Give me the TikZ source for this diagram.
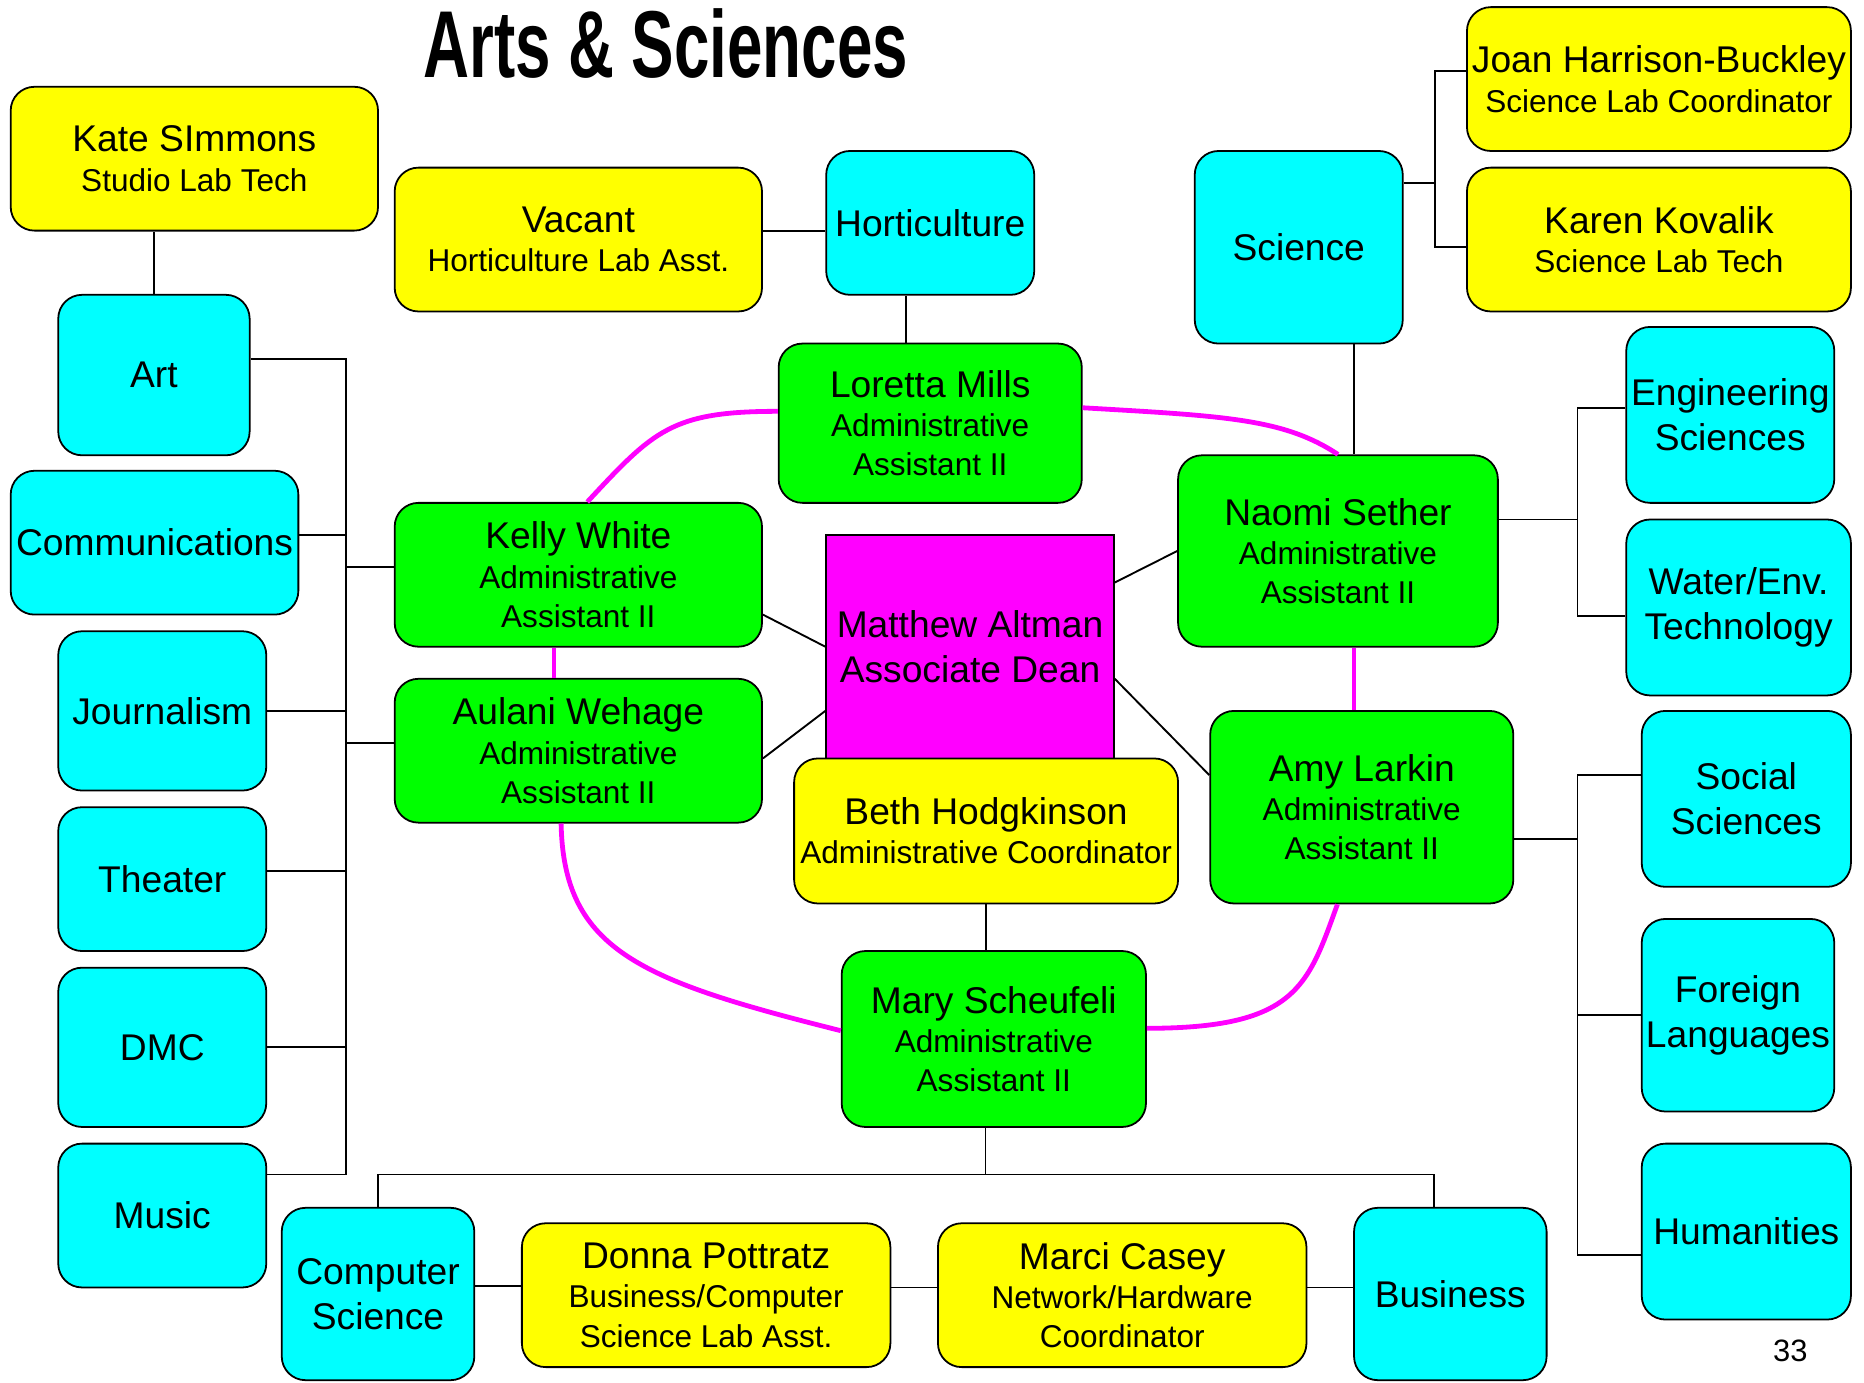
\documentclass[tikz,border=0pt]{standalone}
\usepackage{fontspec}
\setmainfont{Liberation Sans}
\newfontfamily\titlefont[FakeStretch=0.67]{Liberation Sans}
\usepackage{xcolor}
\usepackage{tikz}

\definecolor{deptcyan}{RGB}{0,255,255}
\definecolor{staffyellow}{RGB}{255,255,0}
\definecolor{asstgreen}{RGB}{0,255,0}
\definecolor{deanmagenta}{RGB}{255,0,255}
\newcommand{\nm}{\fontsize{17.8}{18.8}\selectfont}
\newcommand{\rl}{\fontsize{15.1}{18.8}\selectfont}

\begin{document}
\begin{tikzpicture}[x=0.2mm, y=-0.2mm,
  every node/.style={inner sep=0pt},
  base/.style={draw, line width=0.85pt, rounded corners=4mm, align=center},
  dept/.style={base, fill=deptcyan, font=\fontsize{17.8}{21.5}\selectfont},
  staff/.style={base, fill=staffyellow, font=\rl},
  asst/.style={base, fill=asstgreen, font=\rl},
  head/.style={base, sharp corners, fill=deanmagenta, font=\fontsize{17.8}{21.5}\selectfont},
  sz/.style 2 args={minimum width=#1*0.2mm, minimum height=#2*0.2mm},
  wire/.style={line width=0.9pt},
  link/.style={line width=2.3pt, draw=deanmagenta}]
  \useasboundingbox (0,0) rectangle (1568,1163);
  % title
  \node[font=\titlefont\bfseries\fontsize{45.5}{50}\selectfont, anchor=base] (title) at (560,65) {Arts \& Sciences};
  % left column
  \node[staff, sz={309}{121}] (kate) at (163.5,133.5) {{\nm Kate SImmons}\\Studio Lab Tech};
  \node[dept, sz={161}{135}] (art) at (129.5,315.5) {Art};
  \node[dept, sz={242}{121}] (comm) at (130,456.5) {Communications};
  \node[dept, sz={175}{134}] (journ) at (136.5,598) {Journalism};
  \node[dept, sz={175}{121}] (theater) at (136.5,739.5) {Theater};
  \node[dept, sz={175}{134}] (dmc) at (136.5,881) {DMC};
  \node[dept, sz={175}{121}] (music) at (136.5,1022.5) {Music};
  % top row
  \node[staff, sz={309}{121}] (vacant) at (486.5,201.5) {{\nm Vacant}\\Horticulture Lab Asst.};
  \node[dept, sz={175}{121}] (horti) at (782.5,187.5) {Horticulture};
  \node[dept, sz={175}{162}] (science) at (1092.5,208) {Science};
  \node[staff, sz={323}{121}] (joan) at (1395.5,66.5) {{\nm Joan Harrison-Buckley}\\Science Lab Coordinator};
  \node[staff, sz={323}{121}] (karen) at (1395.5,201.5) {{\nm Karen Kovalik}\\Science Lab Tech};
  % assistants and dean
  \node[asst, sz={255}{134}] (loretta) at (782.5,356) {{\nm Loretta Mills}\\Administrative\\Assistant II};
  \node[asst, sz={309}{121}] (kelly) at (486.5,483.5) {{\nm Kelly White}\\Administrative\\Assistant II};
  \node[asst, sz={309}{121}] (aulani) at (486.5,631.5) {{\nm Aulani Wehage}\\Administrative\\Assistant II};
  \node[head, sz={242}{188}] (matthew) at (816,544) {Matthew Altman\\Associate Dean};
  \node[staff, sz={323}{122}] (beth) at (829.5,699) {{\nm Beth Hodgkinson}\\Administrative Coordinator};
  \node[asst, sz={269}{161}] (naomi) at (1125.5,463.5) {{\nm Naomi Sether}\\Administrative\\Assistant II};
  \node[asst, sz={255}{162}] (amy) at (1145.5,679) {{\nm Amy Larkin}\\Administrative\\Assistant II};
  \node[asst, sz={256}{148}] (mary) at (836,874) {{\nm Mary Scheufeli}\\Administrative\\Assistant II};
  % right column
  \node[dept, sz={175}{148}] (eng) at (1455.5,349) {Engineering\\Sciences};
  \node[dept, sz={189}{148}] (water) at (1462.5,511) {Water/Env.\\Technology};
  \node[dept, sz={176}{148}] (social) at (1469,672) {Social\\Sciences};
  \node[dept, sz={162}{162}] (foreign) at (1462,854) {Foreign\\Languages};
  \node[dept, sz={176}{148}] (human) at (1469,1036) {Humanities};
  % bottom row
  \node[dept, sz={162}{145}] (cs) at (318,1088.5) {Computer\\Science};
  \node[staff, sz={310}{121}] (donna) at (594,1089.5) {{\nm Donna Pottratz}\\Business/Computer\\Science Lab Asst.};
  \node[staff, sz={310}{121}] (marci) at (944,1089.5) {{\nm Marci Casey}\\Network/Hardware\\Coordinator};
  \node[dept, sz={162}{145}] (business) at (1220,1088.5) {Business};
  \node[font=\fontsize{14.8}{16}\selectfont, anchor=base] (page) at (1506,1145) {33};

  % black connectors
  \coordinate (lbus) at (291,600);
  \coordinate (sbus) at (1207,154);
  \coordinate (nbus) at (1327,437);
  \coordinate (abus) at (1327,706);
  \coordinate (bbus) at (829,988);
  \draw[wire] (art.north) -- (art.north |- kate.south);
  \draw[wire] ([yshift=2.7mm]art.east) -| (lbus) |- ([yshift=6.9mm]music.east);
  \foreach \d/\s in {comm/1.3, journ/0, theater/1.3, dmc/0}
    \draw[wire] ([yshift=\s mm]\d.east) -- ([yshift=\s mm]\d.east -| lbus);
  \foreach \d in {kelly, aulani}
    \draw[wire] ([yshift=1.3mm]\d.west) -- ([yshift=1.3mm]\d.west -| lbus);
  \draw[wire] ([yshift=1.5mm]vacant.east) -- ([yshift=1.5mm]vacant.east -| horti.west);
  \draw[wire] ([xshift=-4.1mm]horti.south) -- ([xshift=-4.1mm]horti.south |- loretta.north);
  \draw[wire] (science.east |- sbus) -- (sbus);
  \draw[wire] ([yshift=1.3mm]joan.west) -| (sbus) |- ([yshift=-1.3mm]karen.west);
  \draw[wire] ([xshift=9.3mm]science.south) -- ([xshift=9.3mm]science.south |- naomi.north);
  \draw[wire] (naomi.east |- nbus) -- (nbus);
  \draw[wire] ([yshift=1.2mm]eng.west) -| (nbus) |- ([yshift=-1.4mm]water.west);
  \draw[wire] (amy.east |- abus) -- (abus);
  \draw[wire] ([yshift=4mm]social.west) -| (abus) |- ([yshift=-4mm]human.west);
  \draw[wire] (foreign.west) -- (foreign.west -| abus);
  \draw[wire] ([yshift=-6.7mm]kelly.east) -- (matthew.west);
  \draw[wire] ([yshift=-1.3mm]aulani.east) -- ([yshift=-10.8mm]matthew.west);
  \draw[wire] (naomi.west) -- ([yshift=10.8mm]matthew.east);
  \draw[wire] ([yshift=5.4mm]amy.west) -- ([yshift=-5.4mm]matthew.east);
  \draw[wire] (beth.south) -- (beth.south |- mary.north);
  \draw[wire] (mary.south -| bbus) -- (bbus);
  \draw[wire] (cs.north) |- (bbus) -| ([xshift=-2.8mm]business.north);
  \foreach \a/\b in {cs/donna, donna/marci, marci/business}
    \draw[wire] ([yshift=1.3mm]\a.east) -- ([yshift=1.3mm]\a.east -| \b.west);

  % magenta links between assistants
  \draw[link] ([xshift=1.5mm]kelly.north) .. controls (550,362) and (565,346) .. ([yshift=2mm]loretta.west);
  \draw[link] ([yshift=2.6mm]loretta.east) .. controls (1030,350) and (1080,352) .. (naomi.north);
  \draw[link] ([xshift=-4.1mm]kelly.south) -- ([xshift=-4.1mm]kelly.south |- aulani.north);
  \draw[link] ([xshift=2.7mm]naomi.south) -- ([xshift=2.7mm]naomi.south |- amy.north);
  \draw[link] ([xshift=-2.9mm]aulani.south) .. controls (474,800) and (540,825) .. ([yshift=1.4mm]mary.west);
  \draw[link] ([xshift=-4.1mm]amy.south) .. controls (1100,830) and (1090,865) .. ([yshift=1.8mm]mary.east);
\end{tikzpicture}
\end{document}
